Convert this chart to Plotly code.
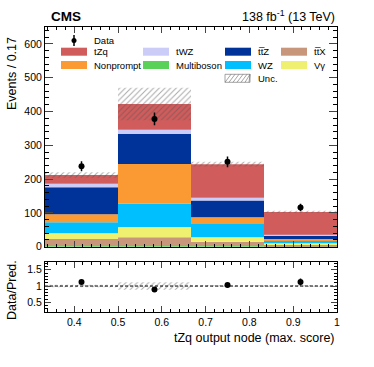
import numpy as np
import plotly.graph_objects as go
from plotly.subplots import make_subplots

# bins of the tZq output node
bin_edges = [1 / 3, 0.5, 2 / 3, 5 / 6, 1.0]
bin_centers = [0.4167, 0.5833, 0.75, 0.9167]

# stacked processes, bottom to top
multiboson = [2, 4, 2, 2]
ttx = [21, 24, 13, 4]
vgamma = [17, 30, 13, 4]
wz = [32, 69, 39, 7]
nonprompt = [24, 118, 20, 6]
ttz = [80, 89, 50, 9]
twz = [10, 12, 8, 3]
tzq = [26, 76, 99, 68]

unc = [8, 48, 7, 3]
data = [238, 378, 251, 116]
data_err = [15, 19, 16, 11]

TTBAR = "tt\u0305"
processes = [
    ("Multiboson", multiboson, "#5ad25a"),
    (TTBAR + "X", ttx, "#c8967a"),
    ("V\u03b3", vgamma, "#f0f070"),
    ("WZ", wz, "#00bfff"),
    ("Nonprompt", nonprompt, "#fb9a33"),
    (TTBAR + "Z", ttz, "#003399"),
    ("tWZ", twz, "#ccccf8"),
    ("tZq", tzq, "#d05c5c"),
]

FONT = "Liberation Sans, Arial, sans-serif"
W, H = 374, 367
L, R, T, B = 45, 37, 27, 55


def px_x(px):
    return (px - L) / (W - L - R)


def px_y(py):
    return (H - B - py) / (H - T - B)


fig = make_subplots(rows=2, cols=1, shared_xaxes=False, vertical_spacing=0.0,
                    row_heights=[0.8, 0.2])

width = bin_edges[1] - bin_edges[0]
base = np.zeros(4)
for name, vals, color in processes:
    vals = np.array(vals, dtype=float)
    fig.add_trace(go.Bar(x=bin_centers, y=vals, base=base, width=width,
                         marker=dict(color=color, line=dict(width=0)),
                         name=name, showlegend=False, hoverinfo="skip"), row=1, col=1)
    base = base + vals
total = base

hatch = dict(color="rgba(0,0,0,0)", line=dict(width=0),
             pattern=dict(shape="/", fgcolor="#555555", bgcolor="rgba(0,0,0,0)",
                          size=4, solidity=0.25))
unc = np.array(unc, dtype=float)
fig.add_trace(go.Bar(x=bin_centers, y=2 * unc, base=total - unc, width=width,
                     marker=hatch, showlegend=False, hoverinfo="skip"), row=1, col=1)

fig.add_trace(go.Scatter(x=bin_centers, y=data, mode="markers",
                         marker=dict(color="black", size=6),
                         error_y=dict(type="data", array=data_err, color="black",
                                      thickness=1.5, width=0),
                         showlegend=False), row=1, col=1)

# ratio panel
ratio = np.array(data) / total
ratio_err = np.array(data_err) / total
rel_unc = unc / total
fig.add_trace(go.Bar(x=bin_centers, y=2 * rel_unc, base=1 - rel_unc, width=width,
                     marker=hatch, showlegend=False, hoverinfo="skip"), row=2, col=1)
fig.add_trace(go.Scatter(x=[bin_edges[0], bin_edges[-1]], y=[1, 1], mode="lines",
                         line=dict(color="black", width=1, dash="3px,2px"),
                         showlegend=False, hoverinfo="skip"), row=2, col=1)
fig.add_trace(go.Scatter(x=bin_centers, y=ratio, mode="markers",
                         marker=dict(color="black", size=6),
                         error_y=dict(type="data", array=ratio_err, color="black",
                                      thickness=1.5, width=0),
                         showlegend=False), row=2, col=1)

axis_common = dict(showline=True, linecolor="black", linewidth=1, mirror="ticks",
                   ticks="inside", showgrid=False, zeroline=False,
                   tickfont=dict(family=FONT, size=10.5, color="black"))

fig.update_xaxes(range=[bin_edges[0], bin_edges[-1]], dtick=0.1, ticklen=6,
                 minor=dict(ticks="inside", dtick=0.02, ticklen=3, tickcolor="black"),
                 **axis_common)
fig.update_xaxes(showticklabels=False, row=1, col=1)
fig.update_xaxes(showticklabels=True, row=2, col=1)

fig.update_yaxes(range=[0, 650], dtick=100, ticklen=8,
                 minor=dict(ticks="inside", dtick=20, ticklen=4, tickcolor="black"),
                 row=1, col=1, **axis_common)
fig.update_yaxes(range=[0.2, 1.75], tickvals=[0.5, 1, 1.5], ticktext=["0.5", "1", "1.5"],
                 ticklen=6, minor=dict(ticks="inside", dtick=0.1, ticklen=3, tickcolor="black"),
                 row=2, col=1, **axis_common)

fig.update_layout(
    barmode="overlay",
    width=W, height=H,
    margin=dict(l=L, r=R, t=T, b=B),
    plot_bgcolor="white", paper_bgcolor="white",
    font=dict(family=FONT, color="black"),
    showlegend=False,
)
fig.update_layout(yaxis=dict(domain=[px_y(246.7), 1.0]),
                  yaxis2=dict(domain=[0.0, px_y(261.7)]))

annotations = [
    dict(text="<b>CMS</b>", x=px_x(49), y=px_y(16), xanchor="left", yanchor="middle",
         font=dict(size=13.5)),
    dict(text="138 fb<sup>-1</sup> (13 TeV)", x=1.0, y=px_y(16), xanchor="right",
         yanchor="middle", font=dict(size=12.5)),
    dict(text="Events / 0.17", x=px_x(12), y=px_y(74), textangle=-90, xanchor="center",
         yanchor="middle", font=dict(size=12.5)),
    dict(text="Data/Pred.", x=px_x(12), y=px_y(290), textangle=-90, xanchor="center",
         yanchor="middle", font=dict(size=12.5)),
    dict(text="tZq output node (max. score)", x=1.0, y=px_y(338), xanchor="right",
         yanchor="middle", font=dict(size=12.5)),
    dict(text="Data", x=px_x(92), y=px_y(40.5), xanchor="left", yanchor="middle",
         font=dict(size=9.5)),
]

# legend drawn by hand in the ROOT column layout
shapes = []
legend_cols = [61, 143, 225, 281]
legend_rows = [51.7, 65, 78.3]
legend_grid = [
    ("tZq", 0, 0), ("tWZ", 1, 0), (TTBAR + "Z", 2, 0), (TTBAR + "X", 3, 0),
    ("Nonprompt", 0, 1), ("Multiboson", 1, 1), ("WZ", 2, 1), ("V\u03b3", 3, 1),
]
colors = {name: color for name, _, color in processes}
for name, c, r in legend_grid:
    x0 = legend_cols[c]
    yc = legend_rows[r]
    shapes.append(dict(type="rect", xref="paper", yref="paper",
                       x0=px_x(x0), x1=px_x(x0 + 26), y0=px_y(yc + 4), y1=px_y(yc - 4),
                       fillcolor=colors[name], line=dict(width=0)))
    annotations.append(dict(text=name, x=px_x(x0 + 31), y=px_y(yc), xanchor="left",
                            yanchor="middle", font=dict(size=9.5)))
# Unc. entry
shapes.append(dict(type="rect", xref="paper", yref="paper",
                   x0=px_x(225), x1=px_x(250), y0=px_y(82.3), y1=px_y(74.3),
                   fillcolor="white", line=dict(width=0.6, color="#666666")))
for k in range(7):
    xa = 225 + k * 4
    shapes.append(dict(type="line", xref="paper", yref="paper",
                       x0=px_x(xa), y0=px_y(82.3), x1=px_x(min(xa + 6, 250)), y1=px_y(74.3),
                       line=dict(width=0.6, color="#666666")))
annotations.append(dict(text="Unc.", x=px_x(256), y=px_y(78.3), xanchor="left",
                        yanchor="middle", font=dict(size=9.5)))
# Data entry marker
shapes.append(dict(type="line", xref="paper", yref="paper",
                   x0=px_x(74), x1=px_x(74), y0=px_y(35), y1=px_y(46),
                   line=dict(width=1.5, color="black")))
shapes.append(dict(type="circle", xref="paper", yref="paper",
                   x0=px_x(71.5), x1=px_x(76.5), y0=px_y(43), y1=px_y(38),
                   fillcolor="black", line=dict(width=0)))

for a in annotations:
    a.setdefault("xref", "paper")
    a.setdefault("yref", "paper")
    a.setdefault("showarrow", False)
fig.update_layout(annotations=annotations, shapes=shapes)

fig.write_html("out.html", config={"displayModeBar": False},
               post_script="document.body.style.margin='0';")
